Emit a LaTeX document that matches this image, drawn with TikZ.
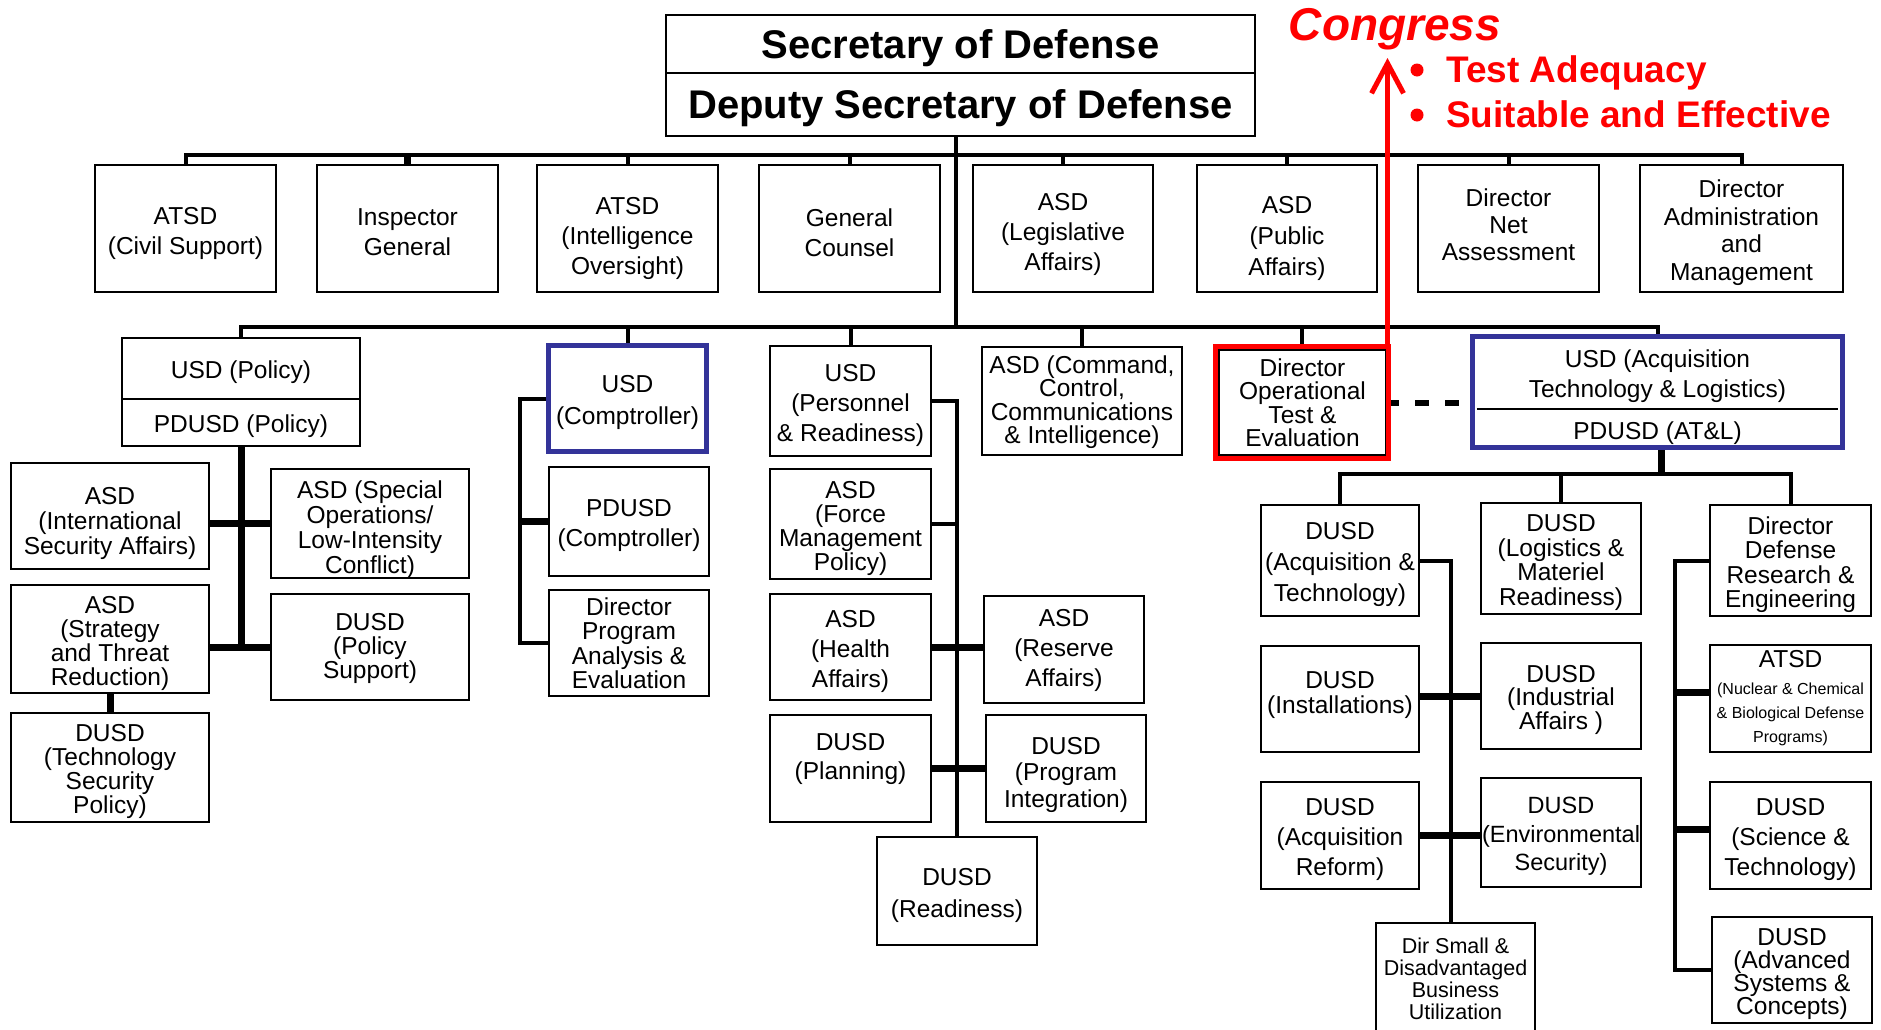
\documentclass[tikz,border=0pt]{standalone}
\usepackage{fontspec}
\setmainfont{Liberation Sans}
\usetikzlibrary{fit,arrows.meta}
\definecolor{navy}{RGB}{51,51,153}
\newcommand\boxfont[1]{\fontsize{24.5}{#1}\selectfont}
\newcommand\topfont{\fontsize{40}{44}\selectfont\bfseries}
% \bx{name}{x1}{y1}{x2}{y2}{text options}{text}
\newcommand\bx[7]{%
  \node[box,fit={(#2,#3)(#4,#5)}] (#1) {};
  \node[txt,#6] (#1t) at (#1.center) {#7};}
\begin{document}
\begin{tikzpicture}[x=1pt,y=-1pt,
  box/.style={draw=black,line width=2pt,inner sep=0pt},
  txt/.style={inner sep=0pt,align=center,font=\boxfont{27},yshift=-4pt},
  ls/.style={font=\boxfont{#1}},
  blubox/.style={draw=navy,line width=5pt,inner sep=0pt},
  redbox/.style={draw=red,line width=5pt,inner sep=0pt},
  bar/.style={line width=4pt},
  thk/.style={line width=7pt},
  dashln/.style={line width=6pt,dash pattern=on 14pt off 16pt,dash phase=6pt},
  redln/.style={draw=red,line width=5pt},
  bul/.style={inner sep=0pt,text=red,font=\fontsize{37}{40}\selectfont\bfseries},
]
\fill[white] (0,0) rectangle (1881,1029);
\useasboundingbox (0,0) rectangle (1881,1029);
\clip (0,0) rectangle (1881,1029);

% ---------- top ----------
\bx{sec}{666}{15}{1255}{73}{font=\topfont}{Secretary of Defense}
\bx{dep}{666}{73}{1255}{136}{font=\topfont}{Deputy Secretary of Defense}

% ---------- row 1 ----------
\bx{r1a}{95}{165}{276}{292}{ls=30,yshift=-1pt}{ATSD\\(Civil Support)}
\bx{r1b}{317}{165}{498}{292}{ls=30}{Inspector\\General}
\bx{r1c}{537}{165}{718}{292}{ls=30,yshift=-5.5pt}{ATSD\\(Intelligence\\Oversight)}
\bx{r1d}{759}{165}{940}{292}{ls=30}{General\\Counsel}
\bx{r1e}{973}{165}{1153}{292}{ls=30,yshift=-2pt}{ASD\\(Legislative\\Affairs)}
\bx{r1f}{1197}{165}{1377}{292}{ls=31,yshift=-6pt}{ASD\\(Public\\Affairs)}
\bx{r1g}{1418}{165}{1599}{292}{ls=27,yshift=8pt}{Director\\Net\\Assessment}
\bx{r1h}{1640}{165}{1843}{292}{ls=27.5}{Director\\Administration\\and\\Management}

% ---------- policy ----------
\bx{usdp}{122}{338}{360}{399}{}{USD (Policy)}
\bx{pdusdp}{122}{399}{360}{446}{}{PDUSD (Policy)}
\bx{isa}{11}{463}{209}{569}{ls=25,yshift=-3pt}{ASD\\(International\\Security Affairs)}
\bx{soc}{271}{469}{469}{578}{ls=25,yshift=-2pt}{ASD (Special\\Operations/\\Low-Intensity\\Conflict)}
\bx{strat}{11}{585}{209}{693}{ls=24}{ASD\\(Strategy\\and Threat\\Reduction)}
\bx{ps}{271}{594}{469}{700}{ls=24,yshift=3pt}{DUSD\\(Policy\\Support)}
\bx{tsp}{11}{713}{209}{822}{ls=24}{DUSD\\(Technology\\Security\\Policy)}

% ---------- comptroller ----------
\node[blubox,fit={(548.5,345.5)(706.5,451.5)}] (comp) {};
\node[txt,ls=32] (compt) at (comp.center) {USD\\(Comptroller)};
\bx{pdcomp}{549}{467}{709}{576}{ls=30}{PDUSD\\(Comptroller)}
\bx{pae}{549}{590}{709}{696}{ls=24.5,yshift=4pt}{Director\\Program\\Analysis \&\\Evaluation}

% ---------- personnel & readiness ----------
\bx{pr}{770}{346}{931}{456}{ls=30}{USD\\(Personnel\\\& Readiness)}
\bx{fmp}{770}{469}{931}{579}{ls=24}{ASD\\(Force\\Management\\Policy)}
\bx{ha}{770}{594}{931}{700}{ls=30}{ASD\\(Health\\Affairs)}
\bx{plan}{770}{715}{931}{822}{ls=29,yshift=14pt}{DUSD\\(Planning)}
\bx{ra}{984}{596}{1144}{703}{ls=30,yshift=3pt}{ASD\\(Reserve\\Affairs)}
\bx{pi}{986}{715}{1146}{822}{ls=26.5,yshift=-2pt}{DUSD\\(Program\\Integration)}
\bx{rdy}{877}{837}{1037}{945}{ls=32}{DUSD\\(Readiness)}

% ---------- C3I ----------
\bx{c3i}{982}{347}{1182}{455}{ls=23.5,yshift=3pt}{ASD (Command,\\Control,\\Communications\\\& Intelligence)}

% ---------- DOT&E ----------
\bx{dote}{1219}{350}{1386}{455}{ls=23.5,yshift=4pt}{Director\\Operational\\Test \&\\Evaluation}
\node[redbox,fit={(1215.5,346.5)(1388.5,458.5)}] (doteframe) {};

% ---------- AT&L ----------
\node[inner sep=0pt,fit={(1477,340)(1838,409)}] (atl) {};
\node[txt,ls=30,yshift=2.8pt] (atlt) at (atl.center) {USD (Acquisition\\Technology \& Logistics)};
\node[inner sep=0pt,fit={(1477,409)(1838,445)}] (pdatl) {};
\node[txt,yshift=-2pt] (pdatlt) at (pdatl.center) {PDUSD (AT\&L)};
\draw[line width=2pt] (atl.south west) -- (atl.south east);
\node[blubox,fit={(1472.5,336.5)(1842.5,447.5)}] (atlframe) {};

\bx{at}{1261}{505}{1419}{616}{ls=31}{DUSD\\(Acquisition \&\\Technology)}
\bx{lmr}{1481}{503}{1641}{614}{ls=24.5}{DUSD\\(Logistics \&\\Materiel\\Readiness)}
\bx{ddre}{1710}{505}{1871}{616}{ls=24.5}{Director\\Defense\\Research \&\\Engineering}
\bx{inst}{1261}{646}{1419}{752}{ls=25,yshift=8.5pt}{DUSD\\(Installations)}
\bx{ind}{1481}{643}{1641}{749}{ls=22.5}{DUSD\\(Industrial\\Affairs )}
\node[box,fit={(1710,645)(1871,752)}] (nuc) {};
\node[txt] (nuca) at (1790.5,655) {ATSD};
\node[txt,font=\fontsize{16}{24}\selectfont] (nucb) at (1790.5,710.5) {(Nuclear \& Chemical\\\& Biological Defense\\Programs)};
\bx{ar}{1261}{782}{1419}{889}{ls=30}{DUSD\\(Acquisition\\Reform)}
\bx{env}{1481}{778}{1641}{887}{font=\fontsize{23.5}{28.5}\selectfont}{DUSD\\(Environmental\\Security)}
\node[box,fit={(1376,923)(1535,1060)}] (dsm) {};
\node[txt,font=\fontsize{21.5}{22}\selectfont] (dsmt) at (1455.5,975) {Dir Small \&\\Disadvantaged\\Business\\Utilization};
\bx{sci}{1710}{782}{1871}{889}{ls=30}{DUSD\\(Science \&\\Technology)}
\bx{adv}{1712}{917}{1872}{1023}{ls=23}{DUSD\\(Advanced\\Systems \&\\Concepts)}

% ---------- Congress ----------
\node[inner sep=0pt,text=red,anchor=base,font=\fontsize{46}{50}\selectfont\bfseries\itshape] (cong) at (1395,40) {Congress};
\fill[red] (1417,70) circle[radius=6.5pt];
\fill[red] (1417,115) circle[radius=6.5pt];
\node[bul,anchor=base west] (b1) at (1446,82) {Test Adequacy};
\node[bul,anchor=base west] (b2) at (1446,127) {Suitable and Effective};
\coordinate (ctip) at (1387.5,58);

% ---------- connectors ----------
\coordinate (y1) at (0,155);
\coordinate (y2) at (0,327);
\coordinate (y3) at (0,474);

\draw[bar] (r1a.north) -- (r1a.north |- y1) -| (r1h.north);
\foreach \n in {r1c,r1d,r1e,r1f,r1g} \draw[bar] (\n.north) -- (\n.north |- y1);
\draw[thk] (r1b.north) -- (r1b.north |- y1);
\draw[bar] ([xshift=-4.5pt]dep.south) -- ([xshift=-4.5pt]dep.south |- y2);

\draw[bar] (usdp.north) -- (usdp.north |- y2) -| (atlframe.north);
\foreach \n in {comp,pr,c3i,doteframe} \draw[bar] (\n.north) -- (\n.north |- y2);

% policy
\draw[thk] (pdusdp.south) -- (pdusdp.south |- ps.west);
\draw[thk] (isa.east |- soc.west) -- (soc.west);
\draw[thk] (strat.east |- ps.west) -- (ps.west);
\draw[thk] (strat.south) -- (tsp.north);

% comptroller
\draw[bar] (comp.west) -- ++(-26,0) |- (pae.west);
\draw[thk] (pdcomp.west) -- ++(-30,0);

% personnel & readiness
\draw[bar] (pr.east) -| (rdy.north);
\draw[bar] (fmp.east) -- (fmp.east -| rdy.north);
\draw[thk] (ha.east) -- (ha.east -| ra.west);
\draw[thk] (plan.east) -- (pi.west);

% DOT&E and AT&L
\draw[dashln] (doteframe.east) -- (doteframe.east -| atlframe.west);
\draw[redln,-{Straight Barb[length=30pt,width=32pt]}] ([xshift=-3.5pt]doteframe.north east) -- (ctip);

\draw[thk] ([xshift=4pt]atlframe.south) -- ([xshift=4pt]atlframe.south |- y3);
\draw[bar] (at.north) -- (at.north |- y3) -| (ddre.north);
\draw[bar] (lmr.north) -- (lmr.north |- y3);
\draw[bar] (at.east) -| ([xshift=-5pt]dsm.north);
\draw[thk] (ind.west -| inst.east) -- (ind.west);
\draw[thk] (ar.east) -- (ar.east -| env.west);
\draw[bar] (ddre.west) -- ++(-34,0) |- (adv.west);
\draw[thk] ([yshift=6pt]nuc.west) -- ++(-34,0);
\draw[thk] ([yshift=6pt]sci.west) -- ++(-34,0);
\end{tikzpicture}
\end{document}
